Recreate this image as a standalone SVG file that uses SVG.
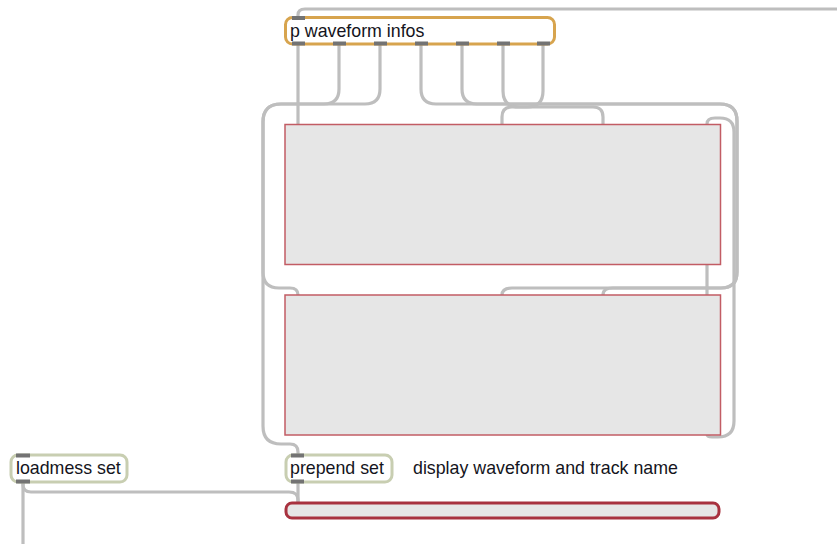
<svg xmlns="http://www.w3.org/2000/svg" width="837" height="544" viewBox="0 0 837 544">
  <style>
    .cord { fill: none; stroke: #bebebe; stroke-width: 3.2; stroke-linecap: butt; stroke-linejoin: round; }
    .obj { fill: #ffffff; stroke: #c8ceb1; stroke-width: 3; }
    .sub { fill: #ffffff; stroke: #d7a44e; stroke-width: 3; }
    .panel { fill: #e6e6e6; stroke: #c25c64; stroke-width: 1.5; }
    .msg { fill: #e6e6e6; stroke: #a8323f; stroke-width: 3; }
    .port { fill: #737373; }
    .label { font-family: "Liberation Sans", Arial, sans-serif; font-size: 17.8px; fill: #141420; }
  </style>

  <!-- patch cords -->
  <g id="cords">
    <!-- into subpatcher inlet from the right -->
    <path class="cord" d="M298,17 V15 Q298,9 305,9 H837"/>
    <!-- outlet 1 to top waveform -->
    <path class="cord" d="M298,45 V124"/>
    <!-- outlets 2 and 3 around the left side -->
    <path class="cord" d="M339,45 V89 Q339,104 324,104 H281 Q263,104 263,122 V272 Q263,288 279,288 H290 Q298,288 298,295"/>
    <path class="cord" d="M380,45 V89 Q380,104 365,104 H281 Q263,104 263,122 V426 Q263,444 281,444 H290 Q298,444 298,452 V455"/>
    <!-- outlets 4 and 5 around the right side to the lower waveform -->
    <path class="cord" d="M421,45 V89 Q421,104 436,104 H720 Q737,104 737,121 V272 Q737,288 721,288 H512 Q502,288 502,295"/>
    <path class="cord" d="M462,45 V89 Q462,104 477,104 H720 Q737,104 737,121 V272 Q737,288 721,288 H613 Q603,288 603,295"/>
    <!-- outlets 6 and 7 to the upper waveform -->
    <path class="cord" d="M503,45 V91 Q503,107 519,107 H593 Q603,107 603,117 V124"/>
    <path class="cord" d="M543,45 V91 Q543,107 527,107 H512 Q502,107 502,117 V124"/>
    <!-- upper waveform to lower waveform -->
    <path class="cord" d="M707,264 V295"/>
    <!-- lower waveform feeding back to the upper one -->
    <path class="cord" d="M707,434 Q707,437 712,437 H718 Q734,437 734,421 V132 Q734,118 720,118 H715 Q707,118 707,124"/>
    <!-- loadmess and prepend into the message box -->
    <path class="cord" d="M23,483 V544"/>
    <path class="cord" d="M23,483 V485 Q23,492 31,492 H289 Q298,492 298,500 V503"/>
    <path class="cord" d="M298,483 V503"/>
  </g>

  <!-- subpatcher -->
  <g id="p-waveform-infos">
    <rect class="sub" x="285.5" y="17.5" width="269" height="26.5" rx="7"/>
    <rect class="port" x="292" y="16" width="13" height="4"/>
    <rect class="port" x="292" y="41.5" width="13" height="4"/>
    <rect class="port" x="333" y="41.5" width="13" height="4"/>
    <rect class="port" x="374" y="41.5" width="13" height="4"/>
    <rect class="port" x="415" y="41.5" width="13" height="4"/>
    <rect class="port" x="456" y="41.5" width="13" height="4"/>
    <rect class="port" x="497" y="41.5" width="13" height="4"/>
    <rect class="port" x="537" y="41.5" width="13" height="4"/>
    <text class="label" x="290" y="37">p waveform infos</text>
  </g>

  <!-- waveform displays -->
  <g id="waveform-top">
    <rect class="panel" x="285" y="124.5" width="435.5" height="140"/>
  </g>
  <g id="waveform-bottom">
    <rect class="panel" x="285" y="295" width="435.5" height="140"/>
  </g>

  <g id="loadmess-set">
    <rect class="obj" x="11" y="455" width="116" height="27" rx="7"/>
    <rect class="port" x="16" y="453.5" width="14" height="4"/>
    <rect class="port" x="16" y="479.5" width="14" height="4"/>
    <text class="label" x="16" y="474">loadmess set</text>
  </g>

  <g id="prepend-set">
    <rect class="obj" x="286" y="455" width="106" height="27" rx="7"/>
    <rect class="port" x="291" y="453.5" width="13" height="4"/>
    <rect class="port" x="291" y="479.5" width="13" height="4"/>
    <text class="label" x="290" y="474">prepend set</text>
  </g>

  <g id="comment">
    <text class="label" x="413" y="474">display waveform and track name</text>
  </g>

  <g id="message-box">
    <rect class="msg" x="286" y="503" width="433" height="15" rx="6"/>
  </g>
</svg>
